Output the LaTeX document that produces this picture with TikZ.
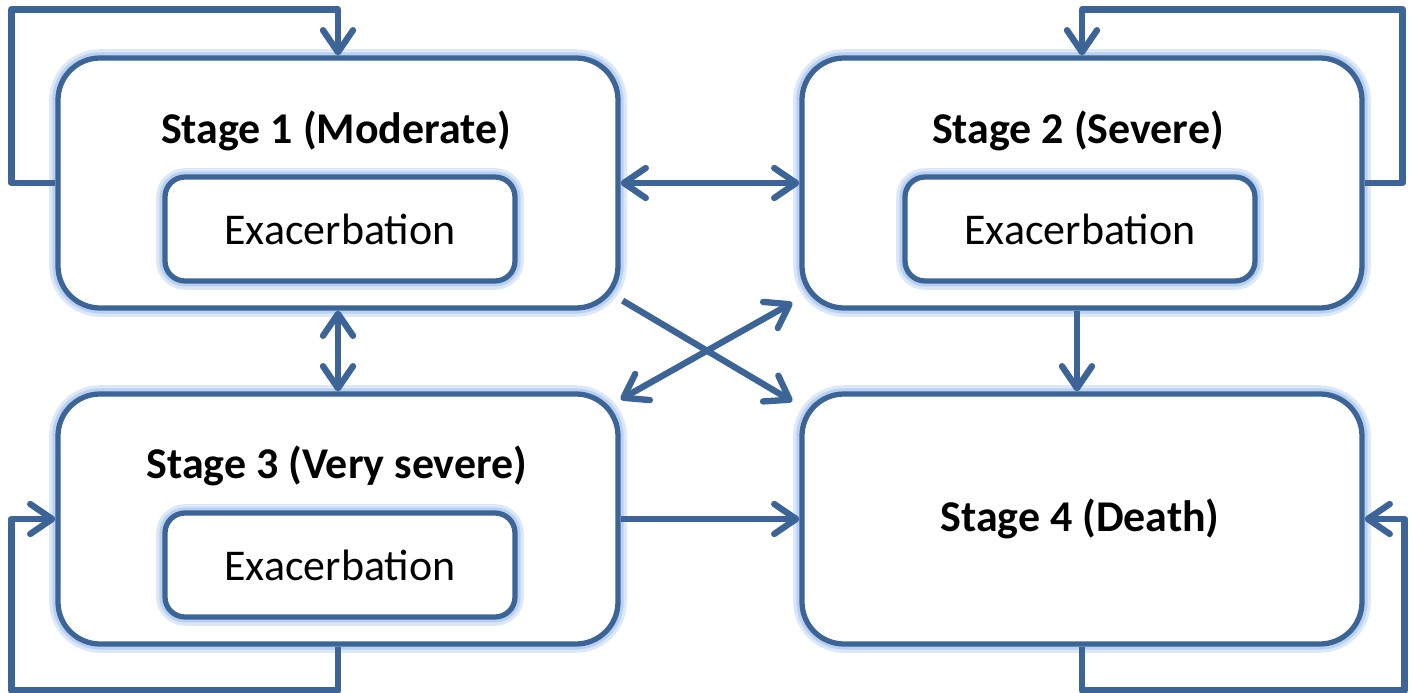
\documentclass[tikz,border=0pt]{standalone}
\usepackage{tikz}
\usepackage{fontspec}
\setmainfont{Carlito}
\usetikzlibrary{arrows.meta}
\definecolor{stageblue}{RGB}{60,100,150}
\definecolor{glowblue}{RGB}{185,210,242}
\tikzset{
  glow/.style={preaction={draw=glowblue!50,line width=5pt},preaction={draw=glowblue,line width=3.2pt}},
  stagebox/.style={glow,draw=stageblue,line width=1.5pt,rounded corners=0.42cm,fill=white,
    minimum width=5.6cm,minimum height=2.5cm},
  exabox/.style={glow,draw=stageblue,line width=1.5pt,rounded corners=0.2cm,fill=white,
    minimum width=3.5cm,minimum height=1.04cm,font=\fontsize{12.5}{15}\selectfont},
  stagetitle/.style={font=\fontsize{12.5}{15}\selectfont\bfseries},
  link/.style={draw=stageblue,line width=1.8pt,line join=round,
    -{Straight Barb[length=2.2mm,width=3mm,round]}},
  link2/.style={link,{Straight Barb[length=2.2mm,width=3mm,round]}-{Straight Barb[length=2.2mm,width=3mm,round]}}
}
\begin{document}
\begin{tikzpicture}
\useasboundingbox (0,0) rectangle (14.13,6.92);
%stage boxes
\node[stagebox] (s1) at (3.38,5.09) {};
\node[stagebox] (s2) at (10.82,5.09) {};
\node[stagebox] (s3) at (3.38,1.73) {};
\node[stagebox] (s4) at (10.82,1.73) {};

\node[stagetitle] (t1) at (3.36,5.61) {Stage 1 (Moderate)};
\node[stagetitle] (t2) at (10.78,5.61) {Stage 2 (Severe)};
\node[stagetitle] (t3) at (3.37,2.26) {Stage 3 (Very severe)};
\node[stagetitle] (t4) at (10.80,1.73) {Stage 4 (Death)};

%exacerbation boxes
\node[exabox] (e1) at (3.40,4.63) {Exacerbation};
\node[exabox] (e2) at (10.80,4.63) {Exacerbation};
\node[exabox] (e3) at (3.40,1.27) {Exacerbation};

%self loops
\draw[link] (s1.west) -- ++(-0.44,0) |- ([yshift=0.46cm]s1.north) -- (s1.north);
\draw[link] (s2.east) -- ++(0.38,0) |- ([yshift=0.46cm]s2.north) -- (s2.north);
\draw[link] (s3.south) -- ++(0,-0.44) -| ([xshift=-0.44cm]s3.west) -- (s3.west);
\draw[link] (s4.south) -- ++(0,-0.44) -| ([xshift=0.4cm]s4.east) -- (s4.east);

%transitions
\draw[link2] (s1.east) -- (s2.west);
\draw[link2] (s1.south) -- (s3.north);
\draw[link] ([xshift=-0.05cm]s2.south) -- ([xshift=-0.05cm]s4.north);
\draw[link] (s3.east) -- (s4.west);
\draw[link] ([shift={(0.02,0.1)}]s1.south east) -- ([shift={(-0.07,-0.1)}]s4.north west);
\draw[link2] ([shift={(0,-0.08)}]s3.north east) -- ([shift={(-0.07,0.08)}]s2.south west);
\end{tikzpicture}
\end{document}
